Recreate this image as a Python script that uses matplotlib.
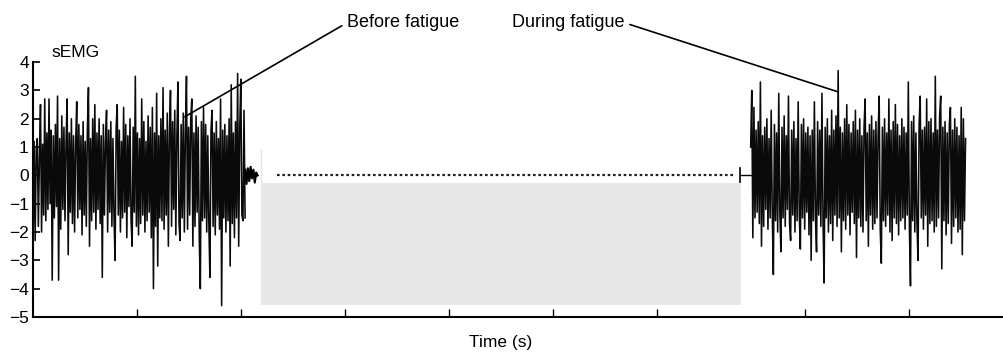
import numpy as np
import matplotlib
matplotlib.use("Agg")
import matplotlib.pyplot as plt
from matplotlib.patches import Rectangle

plt.rcParams['font.family'] = ['Liberation Sans', 'DejaVu Sans']

# ---------------------------
#  Data (time in axis units)
# ---------------------------

# sEMG before fatigue
before_t = (0.0, 2.04)
before_emg = [
    -2.5, 1.2, -2.3, 0.9, 1.3, -1.8, 0.6, 2.5, -2.0, 1.1, -1.4, 2.7, -1.6, 1.5, -1.2, 2.7, -1.0, 1.6, -3.7, 1.4,
    -1.5, 1.8, -1.1, 2.8, -3.7, 1.3, -1.9, 2.1, -1.2, 1.7, -1.6, 1.2, 2.7, -2.8, 1.5, -1.3, 2.0, -1.7, 1.4, -2.0,
    1.1, 2.6, -1.5, 1.8, -1.2, 1.4, -2.1, 1.9, -1.4, 1.2, -1.8, 1.6, 3.1, -2.5, 1.3, -1.6, 2.0, -1.3, 2.5, -1.9,
    1.5, -1.2, 2.0, -1.7, 1.4, -3.6, 1.8, -1.4, 1.2, 2.3, -2.0, 1.6, -1.3, 1.9, -1.8, 1.3, -1.5, -3.0, 1.7, 2.5,
    -1.4, 1.6, -2.0, 1.2, -1.5, 2.4, -1.3, 1.8, -2.2, 1.4, -1.1, 2.0, -1.6, -2.5, 1.7, -1.3, 3.5, -1.8, 1.5, -2.1,
    1.3, -1.7, 2.7, -1.4, 1.9, -2.0, 1.2, -1.6, 2.1, -1.3, 1.7, -2.2, 2.4, -4.0, 1.5, -1.8, 2.9, -3.2, 1.4, -1.5,
    2.0, -1.6, 3.1, -1.9, 1.6, -1.4, 2.2, -2.5, 1.5, 3.0, -1.8, 1.9, -1.2, 2.3, -2.1, 1.4, 3.3, -1.7, -2.3, 1.8,
    -1.5, 2.2, -2.0, 1.6, 3.5, -1.9, 1.7, -1.4, 2.0, 2.7, -2.5, 1.5, -1.8, 2.1, -1.3, 1.7, -2.2, -4.0, 1.9, -1.6,
    2.4, -1.5, 1.8, -2.0, 1.4, -1.7, -3.6, 1.6, 2.3, -1.8, 1.5, -2.1, 1.9, -1.4, 1.3, -1.9, 2.7, -4.6, 1.6, -1.5,
    1.8, -2.0, 1.4, -1.6, 2.0, -3.2, 3.2, -1.7, 1.5, -2.2, 1.9, -1.5, 3.6, -2.5, 1.7, 3.4, -1.4, -1.6, 2.3, -1.5,
]

# small residual wiggle after the first burst
tail_t = (2.04, 2.16)
tail_emg = [0.2, -0.3, 0.25, -0.2, 0.3, -0.1, 0.2, -0.25, 0.1, 0.0]

# sEMG during fatigue
during_t = (6.904, 8.971)
during_emg = [
    1.0, 3.0, -2.2, 2.4, -1.5, 1.6, -1.3, 1.9, -1.7, 3.3, -2.5, 1.4, -1.8, 1.7, -1.2, 2.0, -1.9, 1.3, -1.5, 2.3,
    -1.4, -3.5, 1.8, -1.6, 1.5, -2.0, 2.9, -1.3, -2.7, 1.7, -1.5, 2.1, -1.8, 1.4, -1.2, 2.8, -1.7, -2.3, 1.6, -1.4,
    1.9, -2.0, 1.3, -1.6, 2.6, -1.4, -2.6, 1.8, -1.5, 2.0, -1.9, 1.5, -1.3, 1.7, -2.1, 1.4, -3.0, 1.6, -1.6, 2.6,
    -1.5, -2.7, 1.9, -1.4, 1.6, -1.8, 2.9, -1.6, -3.8, 1.7, -1.5, 2.0, -2.0, 1.4, -1.7, 2.3, -2.3, 1.6, -1.4, 2.1,
    -1.8, 3.7, -1.5, 1.7, -2.7, 1.5, -1.6, 2.0, -1.9, 2.5, -1.4, 1.8, -2.1, 1.5, -1.3, 1.9, -1.7, 2.3, -2.9, 1.6,
    -1.5, 2.0, -1.8, 1.4, -2.0, 1.7, 2.7, -1.6, 1.5, -2.5, 1.8, -1.4, 2.1, -1.9, 1.6, -1.7, 1.9, -1.5, 1.4, 2.8,
    -1.9, -3.1, 1.7, -1.6, 2.0, -1.8, 1.5, -1.4, 2.7, -2.0, 1.6, -2.3, 1.9, -1.5, 2.5, -1.7, 1.8, -2.1, 1.4, -1.6,
    2.0, -1.5, 1.7, -1.9, 1.5, -1.4, 3.3, -1.8, -3.9, 1.9, -1.6, 2.1, -2.0, 1.5, -1.7, -3.0, 1.8, 2.8, -1.5, 1.6,
    -1.9, 1.7, -1.4, 2.7, -2.5, 1.9, -1.7, 2.0, -1.6, 1.5, -2.0, 3.5, -1.8, 1.6, -1.5, 2.1, 2.8, -3.3, 1.7, -1.6,
    1.9, -2.1, 1.5, -1.7, 1.8, 2.4, -2.4, 1.6, -1.8, 2.0, -1.5, 1.7, -2.0, 1.4, -1.9, 2.4, -2.8, 2.0, -1.6, 1.3,
]

# stimulation marker before second burst
marker_t = [6.80, 6.904]
marker_tick = [-0.25, 0.25]

# baseline (dotted) and grey block
baseline_t = [2.35, 6.75]
grey_block = [2.19, 6.81, -4.57, -0.27]   # t0, t1, y0, y1

y_ticks = [-5, -4, -3, -2, -1, 0, 1, 2, 3, 4]
x_ticks = [1, 2, 3, 4, 5, 6, 7.43, 8.43]
x_max = 9.34

# annotation points
before_pt = (1.46, 2.07)
before_txt = (3.02, 5.39)
during_pt = (7.745, 2.95)
during_txt = (5.69, 5.39)


def main():
    fig = plt.figure(figsize=(10.04, 3.53), dpi=100)
    ax = fig.add_axes([0.0329, 0.102, 0.967, 0.722])

    # grey block
    g = grey_block
    ax.add_patch(Rectangle((g[0], g[2]), g[1] - g[0], g[3] - g[2],
                           facecolor="#e8e8e8", edgecolor="none", zorder=1))
    ax.plot([g[0], g[0]], [g[3], 0.9], color="#e4e4e4", lw=1.0, zorder=1)

    # bursts
    t1 = np.linspace(before_t[0], before_t[1], len(before_emg))
    ax.plot(t1, before_emg, color="#0a0a0a", lw=1.15, zorder=3)
    tt = np.linspace(tail_t[0], tail_t[1], len(tail_emg))
    ax.plot(tt, tail_emg, color="black", lw=1.6, zorder=3)
    t2 = np.linspace(during_t[0], during_t[1], len(during_emg))
    ax.plot(t2, during_emg, color="#0a0a0a", lw=1.15, zorder=3)

    # marker + baseline
    ax.plot([marker_t[0]] * 2, marker_tick, color="black", lw=1.2, zorder=3)
    ax.plot(marker_t, [0, 0], color="black", lw=1.0, zorder=3)
    ax.plot(baseline_t, [0, 0], color="#222222", lw=1.6,
            linestyle=(0, (1.2, 1.2)), zorder=3)

    # annotations
    ax.annotate("Before fatigue", xy=before_pt, xytext=before_txt,
                ha="left", va="center", fontsize=13, annotation_clip=False,
                arrowprops=dict(arrowstyle="-", color="black", lw=1.2,
                                relpos=(0, 0.5), shrinkA=2, shrinkB=0))
    ax.annotate("During fatigue", xy=during_pt, xytext=during_txt,
                ha="right", va="center", fontsize=13, annotation_clip=False,
                arrowprops=dict(arrowstyle="-", color="black", lw=1.2,
                                relpos=(1, 0.5), shrinkA=2, shrinkB=0))

    ax.text(0.18, 4.35, "sEMG", fontsize=12.5, ha="left", va="center")

    # axes styling
    ax.set_xlim(0, x_max)
    ax.set_ylim(-5, 4)
    ax.set_yticks(y_ticks)
    ax.set_yticklabels([str(v).replace("-", "\u2212") for v in y_ticks])
    ax.set_xticks(x_ticks)
    ax.set_xticklabels([])
    ax.spines["top"].set_visible(False)
    ax.spines["right"].set_visible(False)
    for s in ("left", "bottom"):
        ax.spines[s].set_linewidth(1.5)
    ax.tick_params(axis="y", direction="in", length=5, width=1.2,
                   labelsize=12.5, pad=3)
    ax.tick_params(axis="x", direction="in", length=6, width=1.0)
    ax.set_xlabel("Time (s)", fontsize=12.5)
    ax.xaxis.set_label_coords(0.482, -0.07)

    fig.savefig("out.png", dpi=100)


if __name__ == "__main__":
    main()
